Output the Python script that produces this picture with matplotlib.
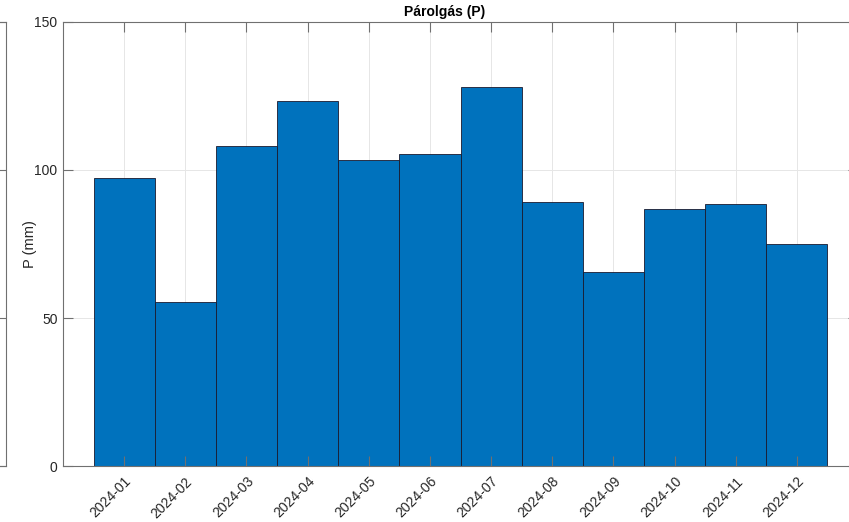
import matplotlib.pyplot as plt
import numpy as np

months = ["2024-01", "2024-02", "2024-03", "2024-04", "2024-05", "2024-06",
          "2024-07", "2024-08", "2024-09", "2024-10", "2024-11", "2024-12"]
evap = [97.3, 55.4, 108.1, 123.3, 103.4, 105.4, 128.0, 89.2, 65.5, 86.8, 88.5, 75.0]
yticks = [0, 50, 100, 150]

plt.rcParams['font.family'] = ['Liberation Sans', 'DejaVu Sans']

W, H = 849, 522
fig = plt.figure(figsize=(W / 100, H / 100), dpi=100)

axis_col = '#707070'
grid_col = '#e6e6e6'

# neighbouring panel, only its right edge shows
ax0 = fig.add_axes([-700 / W, 56 / H, 706 / W, 444 / H])
ax0.set_xlim(0, 1)
ax0.set_ylim(0, 150)
ax0.set_xticks([])
ax0.set_yticks(yticks)
ax0.tick_params(axis='y', left=False, right=True, labelleft=False, direction='in',
                length=6, color=axis_col)
for s in ax0.spines.values():
    s.set_color(axis_col)
    s.set_linewidth(0.8)

ax = fig.add_axes([63 / W, 56 / H, 795 / W, 444 / H])
x = np.arange(1, len(months) + 1)
ax.bar(x, evap, width=1.0, color='#0072bd', edgecolor='#1a1a2e', linewidth=0.6, zorder=1)

ax.set_xlim(0, 13)
ax.set_ylim(0, 150)
ax.set_xticks(x)
ax.set_xticklabels(months, rotation=45, ha='right', rotation_mode='anchor', fontsize=10,
                   color='#262626')
ax.set_yticks(yticks)
ax.set_yticklabels([str(v) for v in yticks], fontsize=10, color='#262626')

# grid behind the bars, ticks on top
for xv in x:
    ax.axvline(xv, color=grid_col, lw=0.7, zorder=0)
for yv in yticks:
    ax.axhline(yv, color=grid_col, lw=0.7, zorder=0)

ax.tick_params(direction='in', length=7, color=axis_col, top=True, right=True, pad=4)
ax.tick_params(axis='x', pad=6)
for s in ax.spines.values():
    s.set_color(axis_col)
    s.set_linewidth(0.8)

ax.set_ylabel('P (mm)', fontsize=10.5, color='#262626', labelpad=-2)
ax.set_title('Párolgás (P)', fontsize=10, fontweight='bold', color='#000000', pad=4,
             x=(445 - 63) / 795)

fig.savefig('out.png', dpi=100)
